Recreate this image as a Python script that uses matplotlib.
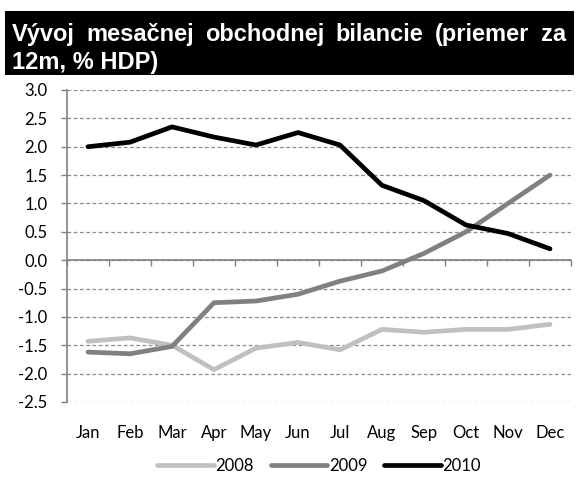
import matplotlib
matplotlib.use("Agg")
import matplotlib.pyplot as plt
import matplotlib.transforms as mtransforms
from matplotlib.patches import Rectangle
import numpy as np

months = ["Jan", "Feb", "Mar", "Apr", "May", "Jun", "Jul", "Aug", "Sep", "Oct", "Nov", "Dec"]
y2008 = [-1.43, -1.37, -1.50, -1.93, -1.55, -1.45, -1.58, -1.22, -1.27, -1.22, -1.22, -1.13]
y2009 = [-1.62, -1.65, -1.52, -0.75, -0.72, -0.60, -0.37, -0.19, 0.12, 0.50, 1.00, 1.50]
y2010 = [2.00, 2.08, 2.35, 2.17, 2.03, 2.25, 2.03, 1.32, 1.05, 0.62, 0.47, 0.20]
yticks = [3.0, 2.5, 2.0, 1.5, 1.0, 0.5, 0.0, -0.5, -1.0, -1.5, -2.0, -2.5]

title_line1 = ["Vývoj", "mesačnej", "obchodnej", "bilancie", "(priemer", "za"]
title_line2 = "12m, % HDP)"

tick_font = "Lato"
title_font = ["Liberation Sans Narrow", "Liberation Sans", "DejaVu Sans"]

fig = plt.figure(figsize=(5.76, 4.78), dpi=100)

# black title box
fig.patches.append(Rectangle((5 / 576, 1 - 75 / 478), 569 / 576, 64 / 478,
                             transform=fig.transFigure, facecolor="black",
                             edgecolor="none", zorder=0))

# first title line justified across the box
renderer = fig.canvas.get_renderer()
words = []
for w in title_line1:
    t = fig.text(0, 1 - 41 / 478, w, color="white", fontsize=17, fontweight="bold",
                 family=title_font)
    words.append(t)
widths = [t.get_window_extent(renderer).width for t in words]
left, right = 12, 566
gap = (right - left - sum(widths)) / (len(words) - 1)
x = left
for t, wd in zip(words, widths):
    t.set_x(x / 576)
    x += wd + gap
fig.text(12 / 576, 1 - 69 / 478, title_line2, color="white", fontsize=17,
         fontweight="bold", family=title_font)

ax = fig.add_axes([67 / 576, 1 - 402 / 478, 504 / 576, 312 / 478])
xs = np.arange(len(months)) + 0.5
ax.plot(xs, y2008, color="#c0c0c0", lw=3.4, solid_capstyle="round", label="2008")
ax.plot(xs, y2009, color="#808080", lw=3.4, solid_capstyle="round", label="2009")
ax.plot(xs, y2010, color="black", lw=3.4, solid_capstyle="round", label="2010")

ax.set_xlim(0, 12)
ax.set_ylim(-2.5, 3.0)
ax.set_yticks(yticks)
ax.set_yticklabels([f"{v:.1f}" for v in yticks], fontsize=12, family=tick_font)
ax.yaxis.grid(True, color="#8c8c8c", linestyle=(0, (3, 2)), lw=0.9)
ax.set_axisbelow(True)
for s in ["top", "right"]:
    ax.spines[s].set_visible(False)
ax.spines["left"].set_color("#808080")
ax.spines["left"].set_linewidth(1.2)
ax.spines["bottom"].set_position(("data", 0))
ax.spines["bottom"].set_color("#808080")
ax.spines["bottom"].set_linewidth(1.2)
ax.tick_params(axis="y", length=4, color="#808080", width=1, pad=10)
ax.set_xticks(np.arange(0, 13))
ax.set_xticklabels([])
ax.tick_params(axis="x", length=4, color="#808080", width=1)

trans = mtransforms.blended_transform_factory(ax.transData, ax.transAxes)
for xi, m in zip(xs, months):
    ax.text(xi, -0.1, m, transform=trans, ha="center", va="center",
            fontsize=12, family=tick_font)

leg = ax.legend(loc="center", bbox_to_anchor=(0.5, -0.205), ncol=3, frameon=False,
                handlelength=3.4, handletextpad=0.1, columnspacing=1.0,
                prop={"family": tick_font, "size": 12})

fig.savefig("out.png", dpi=100)
